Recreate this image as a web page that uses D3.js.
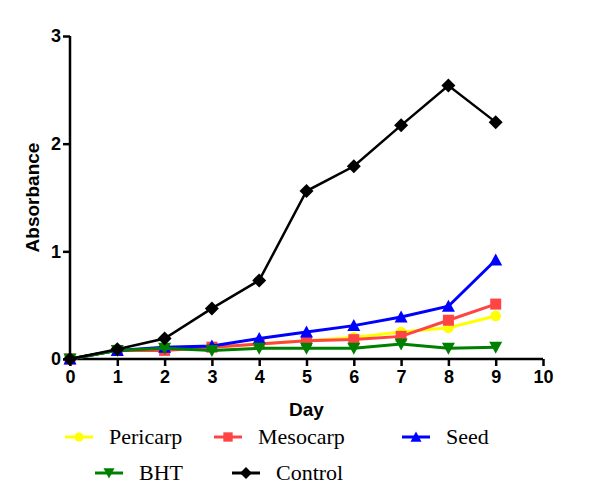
<!DOCTYPE html>
<html><head><meta charset="utf-8">
<script src="https://cdn.jsdelivr.net/npm/d3@7"></script>
<style>body{margin:0;background:#fff}</style>
</head><body>
<svg id="chart" width="600" height="503"></svg>
<script>
const days = [0,1,2,3,4,5,6,7,8,9];
const pericarp = [0,0.08,0.10,0.11,0.14,0.17,0.20,0.25,0.29,0.40];
const mesocarp = [0,0.08,0.08,0.11,0.14,0.17,0.18,0.21,0.36,0.51];
const seed     = [0,0.08,0.11,0.12,0.19,0.25,0.31,0.39,0.49,0.92];
const bht      = [0,0.08,0.10,0.08,0.10,0.10,0.10,0.14,0.10,0.11];
const control  = [0,0.09,0.19,0.47,0.73,1.56,1.79,2.17,2.54,2.20];
const xTicks = [0,1,2,3,4,5,6,7,8,9,10];
const yTicks = [0,1,2,3];
const seriesNames = ["Pericarp","Mesocarp","Seed","BHT","Control"];
const seriesColors = ["#ffff00","#ff4444","#0000ff","#008000","#000000"];
const seriesSymbols = ["circle","square","triangleUp","triangleDown","diamond"];
const seriesData = [pericarp, mesocarp, seed, bht, control];

const svg = d3.select("#chart");
const x = d3.scaleLinear().domain([0,10]).range([70,543]);
const y = d3.scaleLinear().domain([0,3]).range([359,36]);

function symbolPath(kind){
  const s = 5.5;
  if(kind==="circle") return d3.symbol(d3.symbolCircle, 90)();
  if(kind==="square") return `M${-s},${-s}H${s}V${s}H${-s}Z`;
  if(kind==="triangleUp") return `M0,${-s-1}L${s+1},${s}L${-s-1},${s}Z`;
  if(kind==="triangleDown") return `M0,${s+1}L${s+1},${-s}L${-s-1},${-s}Z`;
  if(kind==="diamond") return `M0,${-s-1.5}L${s+1.5},0L0,${s+1.5}L${-s-1.5},0Z`;
}

// axes
const xAxis = d3.axisBottom(x).tickValues(xTicks).tickSize(7).tickPadding(4).tickFormat(d3.format("d"));
const yAxis = d3.axisLeft(y).tickValues(yTicks).tickSize(7).tickPadding(2).tickFormat(d3.format("d"));
const gx = svg.append("g").attr("transform","translate(0,359)").call(xAxis);
const gy = svg.append("g").attr("transform","translate(70,0)").call(yAxis);
[gx,gy].forEach(g=>{
  g.select(".domain").attr("stroke","#000").attr("stroke-width",2.5);
  g.selectAll(".tick line").attr("stroke","#000").attr("stroke-width",2.5);
  g.selectAll(".tick text").attr("fill","#000").style("font-family","'Liberation Sans', Arial, sans-serif")
   .style("font-weight","bold").style("font-size","18px");
});
gy.select(".domain").attr("d","M0,359V36");
gx.select(".domain").attr("d","M70,0H543");

svg.append("text").attr("x",x(5)).attr("y",416).attr("text-anchor","middle")
  .style("font-family","'Liberation Sans', Arial, sans-serif").style("font-weight","bold").style("font-size","19px")
  .text("Day");
svg.append("text").attr("transform","translate(39,"+y(1.5)+") rotate(-90)").attr("text-anchor","middle")
  .style("font-family","'Liberation Sans', Arial, sans-serif").style("font-weight","bold").style("font-size","19px")
  .text("Absorbance");

const line = d3.line().x((d,i)=>x(days[i])).y(d=>y(d));
seriesData.forEach((vals,k)=>{
  const g = svg.append("g");
  g.append("path").datum(vals).attr("d",line).attr("fill","none")
    .attr("stroke",seriesColors[k]).attr("stroke-width",k===4?2.5:3);
  g.selectAll("path.m").data(vals).enter().append("path").attr("class","m")
    .attr("transform",(d,i)=>`translate(${x(days[i])},${y(d)})`)
    .attr("d",symbolPath(seriesSymbols[k])).attr("fill",seriesColors[k]);
});

// legend
const legendPos = [[65,437],[214,437],[402,437],[95,473],[232,473]];
seriesNames.forEach((name,k)=>{
  const [lx,ly] = legendPos[k];
  const g = svg.append("g").attr("transform",`translate(${lx},${ly})`);
  g.append("line").attr("x1",0).attr("x2",28).attr("y1",0).attr("y2",0)
    .attr("stroke",seriesColors[k]).attr("stroke-width",3);
  g.append("path").attr("transform","translate(14,0) scale(0.85)").attr("d",symbolPath(seriesSymbols[k])).attr("fill",seriesColors[k]);
  g.append("text").attr("x",44).attr("y",7).style("font-family","'Liberation Serif', 'Times New Roman', serif")
    .style("font-size","22px").attr("fill","#000").text(name);
});
</script>
</body></html>
